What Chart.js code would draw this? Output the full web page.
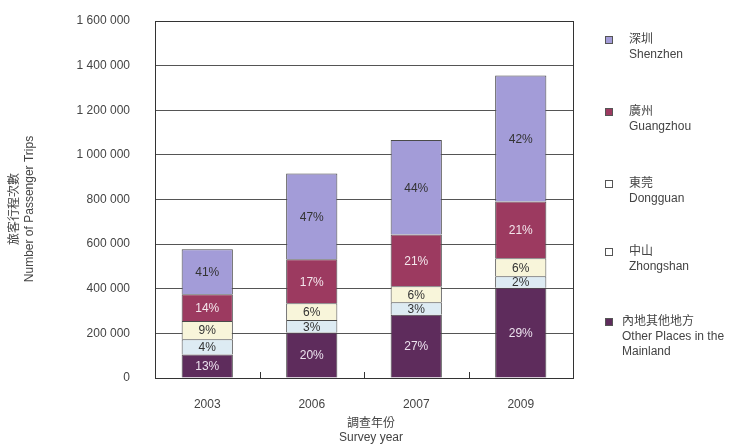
<!DOCTYPE html>
<html>
<head>
<meta charset="utf-8">
<script src="https://cdn.jsdelivr.net/npm/chart.js@4"></script>
<style>
  html, body { margin: 0; padding: 0; background: #fff; }
  canvas { display: block; }
</style>
</head>
<body>
<canvas id="tripsChart" width="730" height="444"></canvas>
<script>
// ---- data ----
const years = ["2003", "2006", "2007", "2009"];

const otherPlaces = [105000, 204000, 284000, 404000];
const zhongshan   = [69000, 56000, 55000, 52000];
const dongguan    = [81000, 75000, 72000, 81000];
const guangzhou   = [120000, 197000, 232000, 254000];
const shenzhen    = [202000, 384000, 424000, 565000];

const pctOther     = ["13%", "20%", "27%", "29%"];
const pctZhongshan = ["4%", "3%", "3%", "2%"];
const pctDongguan  = ["9%", "6%", "6%", "6%"];
const pctGuangzhou = ["14%", "17%", "21%", "21%"];
const pctShenzhen  = ["41%", "47%", "44%", "42%"];

const yTicks = [0, 200000, 400000, 600000, 800000, 1000000, 1200000, 1400000, 1600000];

const FONT = '"Liberation Sans", Arial, "Noto Sans CJK TC", sans-serif';
const TXT = "#444";

// legend entries, top to bottom
const legendItems = [
  { zh: "深圳", en: ["Shenzhen"], color: "#a39cd8" },
  { zh: "廣州", en: ["Guangzhou"], color: "#9c3a60" },
  { zh: "東莞", en: ["Dongguan"], color: "#ffffff" },
  { zh: "中山", en: ["Zhongshan"], color: "#ffffff" },
  { zh: "內地其他地方", en: ["Other Places in the", "Mainland"], color: "#5e2c5c" }
];

function fmt(v) {
  return String(v).replace(/\B(?=(\d{3})+(?!\d))/g, " ");
}

function ds(label, data, pct, bg, labelColor) {
  return {
    label: label,
    data: data,
    pct: pct,
    labelColor: labelColor,
    backgroundColor: bg,
    borderColor: "#4a4a4a",
    borderWidth: 1,
    barPercentage: 0.49,
    categoryPercentage: 1
  };
}

// draws % labels, frame, ticks, titles and legend
const extras = {
  id: "extras",
  afterDatasetsDraw(chart) {
    const ctx = chart.ctx;
    ctx.save();
    ctx.font = "12px " + FONT;
    ctx.textAlign = "center";
    ctx.textBaseline = "middle";
    chart.data.datasets.forEach((d, i) => {
      const meta = chart.getDatasetMeta(i);
      meta.data.forEach((bar, j) => {
        const midY = (bar.y + bar.base) / 2;
        ctx.fillStyle = d.labelColor;
        ctx.fillText(d.pct[j], bar.x, midY + 1);
      });
    });
    ctx.restore();
  },
  afterDraw(chart) {
    const ctx = chart.ctx;
    const a = chart.chartArea;
    const xs = chart.scales.x;
    ctx.save();

    // frame
    ctx.strokeStyle = "#333";
    ctx.lineWidth = 1;
    ctx.strokeRect(Math.round(a.left) + 0.5, Math.round(a.top) + 0.5,
      Math.round(a.right - a.left), Math.round(a.bottom - a.top));

    // small marks between categories
    for (let k = 0; k < years.length - 1; k++) {
      const x = Math.round((xs.getPixelForValue(k) + xs.getPixelForValue(k + 1)) / 2) + 0.5;
      ctx.beginPath();
      ctx.moveTo(x, a.bottom);
      ctx.lineTo(x, a.bottom - 6);
      ctx.stroke();
    }

    ctx.fillStyle = TXT;
    ctx.font = "12px " + FONT;

    // y title
    ctx.save();
    ctx.translate(15, 209);
    ctx.rotate(-Math.PI / 2);
    ctx.textAlign = "center";
    ctx.textBaseline = "middle";
    ctx.fillText("旅客行程次數", 0, 0);
    ctx.fillText("Number of Passenger Trips", 0, 15);
    ctx.restore();

    // x title
    ctx.textAlign = "center";
    ctx.textBaseline = "middle";
    ctx.fillText("調查年份", 371, 424);
    ctx.fillText("Survey year", 371, 438);

    // legend
    const legendY = [40, 112, 184, 252, 322];
    ctx.textAlign = "left";
    legendItems.forEach((it, i) => {
      const y = legendY[i];
      ctx.fillStyle = it.color;
      ctx.fillRect(606, y - 3, 6, 6);
      ctx.strokeStyle = "#555";
      ctx.strokeRect(605.5, y - 3.5, 7, 7);
      ctx.fillStyle = TXT;
      const tx = i === 4 ? 622 : 629;
      ctx.fillText(it.zh, tx, y);
      it.en.forEach((line, l) => ctx.fillText(line, tx, y + 15 + l * 14.5));
    });

    ctx.restore();
  }
};

new Chart(document.getElementById("tripsChart"), {
  type: "bar",
  data: {
    labels: years,
    datasets: [
      ds("內地其他地方 Other Places in the Mainland", otherPlaces, pctOther, "#5e2c5c", "#ece2ee"),
      ds("中山 Zhongshan", zhongshan, pctZhongshan, "#ddebf3", "#333"),
      ds("東莞 Dongguan", dongguan, pctDongguan, "#f8f5da", "#333"),
      ds("廣州 Guangzhou", guangzhou, pctGuangzhou, "#9c3a60", "#f4e6ec"),
      ds("深圳 Shenzhen", shenzhen, pctShenzhen, "#a39cd8", "#333")
    ]
  },
  options: {
    responsive: false,
    animation: false,
    layout: { padding: { top: 21, right: 157, left: 0, bottom: 0 } },
    plugins: {
      legend: { display: false },
      tooltip: { enabled: false }
    },
    scales: {
      x: {
        stacked: true,
        grid: { display: false, drawTicks: false },
        border: { display: false },
        ticks: { color: TXT, font: { size: 12, family: FONT }, padding: 19 },
        afterFit: s => { s.height = 66; }
      },
      y: {
        stacked: true,
        min: 0,
        max: 1600000,
        afterBuildTicks: s => { s.ticks = yTicks.map(v => ({ value: v })); },
        grid: { color: "#555", lineWidth: 1, drawTicks: false },
        border: { display: false },
        ticks: {
          color: TXT,
          font: { size: 12, family: FONT },
          padding: 25,
          callback: v => fmt(v)
        },
        // tick padding would otherwise push the plot top down
        afterFit: s => { s.width = 155; s.paddingTop = 0; s.paddingBottom = 0; }
      }
    }
  },
  plugins: [extras]
});
</script>
</body>
</html>
